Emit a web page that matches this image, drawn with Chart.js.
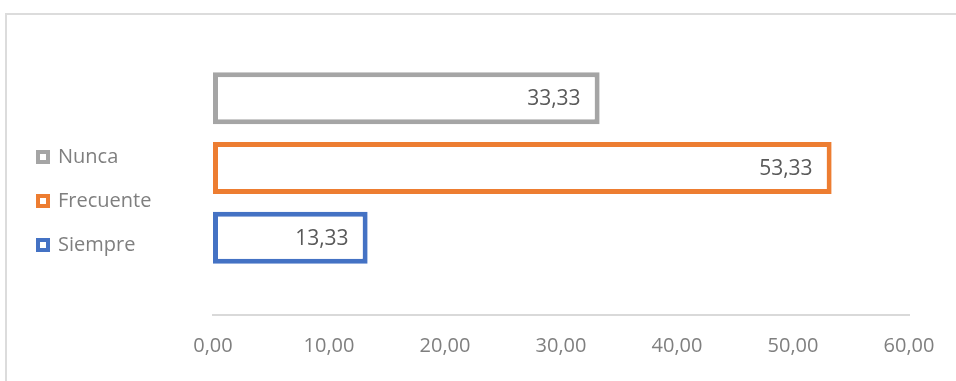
<!DOCTYPE html>
<html>
<head>
<meta charset="utf-8">
<script src="https://cdn.jsdelivr.net/npm/chart.js@4.4.1/dist/chart.umd.min.js"></script>
<style>
    html, body { margin: 0; padding: 0; background: #fff; }
    #wrap { position: relative; width: 956px; height: 381px; overflow: hidden; }
    #frame {
        position: absolute; left: 5px; top: 13px; width: 1000px; height: 400px;
        border-top: 2px solid #dcdcdc; border-left: 2px solid #dcdcdc;
    }
    #canvas { position: absolute; left: 0; top: 0; }
</style>
</head>
<body>
<div id="wrap">
    <div id="frame"></div>
    <canvas id="canvas" width="956" height="381"></canvas>
</div>
<script>
// data
const categories = [''];
const seriesNames = ['Nunca', 'Frecuente', 'Siempre'];
const nunca = [33.33];
const frecuente = [53.33];
const siempre = [13.33];
const xTicks = [0, 10, 20, 30, 40, 50, 60];

const colors = ['#a5a5a5', '#ed7d31', '#4472c4'];
const values = [nunca, frecuente, siempre];

function fmt(v) {
    return v.toFixed(2).replace('.', ',');
}

// value labels drawn inside the end of each bar
const barLabels = {
    id: 'barLabels',
    afterDatasetsDraw(chart) {
        const ctx = chart.ctx;
        ctx.save();
        ctx.font = '21px "Open Sans"';
        ctx.fillStyle = '#595959';
        ctx.textAlign = 'right';
        ctx.textBaseline = 'middle';
        chart.data.datasets.forEach((ds, i) => {
            const meta = chart.getDatasetMeta(i);
            meta.data.forEach((bar, j) => {
                ctx.fillText(fmt(ds.data[j]), bar.x - 19, bar.y + 1);
            });
        });
        ctx.restore();
    }
};

let datasets = seriesNames.map((name, i) => ({
    label: name,
    data: values[i],
    backgroundColor: '#ffffff',
    borderColor: colors[i],
    borderWidth: 5,
    borderSkipped: false,
    categoryPercentage: 0.712,
    barPercentage: 0.745
}));

let ctx = document.getElementById('canvas').getContext('2d');

let myChart = new Chart(ctx, {
    type: 'bar',
    data: { labels: categories, datasets: datasets },
    options: {
        indexAxis: 'y',
        responsive: false,
        animation: false,
        layout: { padding: { left: 14, top: 21, right: 47, bottom: 0 } },
        plugins: {
            legend: {
                position: 'left',
                align: 'center',
                labels: {
                    boxWidth: 10,
                    boxHeight: 10,
                    padding: 24,
                    color: '#7f7f7f',
                    font: { family: 'Open Sans', size: 20 },
                    generateLabels: (chart) => {
                        const items = Chart.defaults.plugins.legend.labels.generateLabels(chart);
                        items.forEach(it => { it.lineWidth = 4; });
                        return items;
                    }
                }
            },
            tooltip: { enabled: false }
        },
        scales: {
            x: {
                min: xTicks[0],
                max: xTicks[xTicks.length - 1],
                afterBuildTicks: (s) => { s.ticks = xTicks.map(v => ({ value: v })); },
                afterFit: (s) => { s.height = 66; },
                grid: { display: false },
                border: { display: true, color: '#d9d9d9', width: 2 },
                ticks: {
                    padding: 11,
                    color: '#7f7f7f',
                    font: { family: 'Open Sans', size: 20 },
                    maxRotation: 0,
                    callback: (v) => fmt(v)
                }
            },
            y: {
                grid: { display: false },
                border: { display: false },
                ticks: { display: false },
                afterFit: (s) => { s.width = 213 - 14 - s.chart.legend.width; }
            }
        }
    },
    plugins: [barLabels]
});
</script>
</body>
</html>
